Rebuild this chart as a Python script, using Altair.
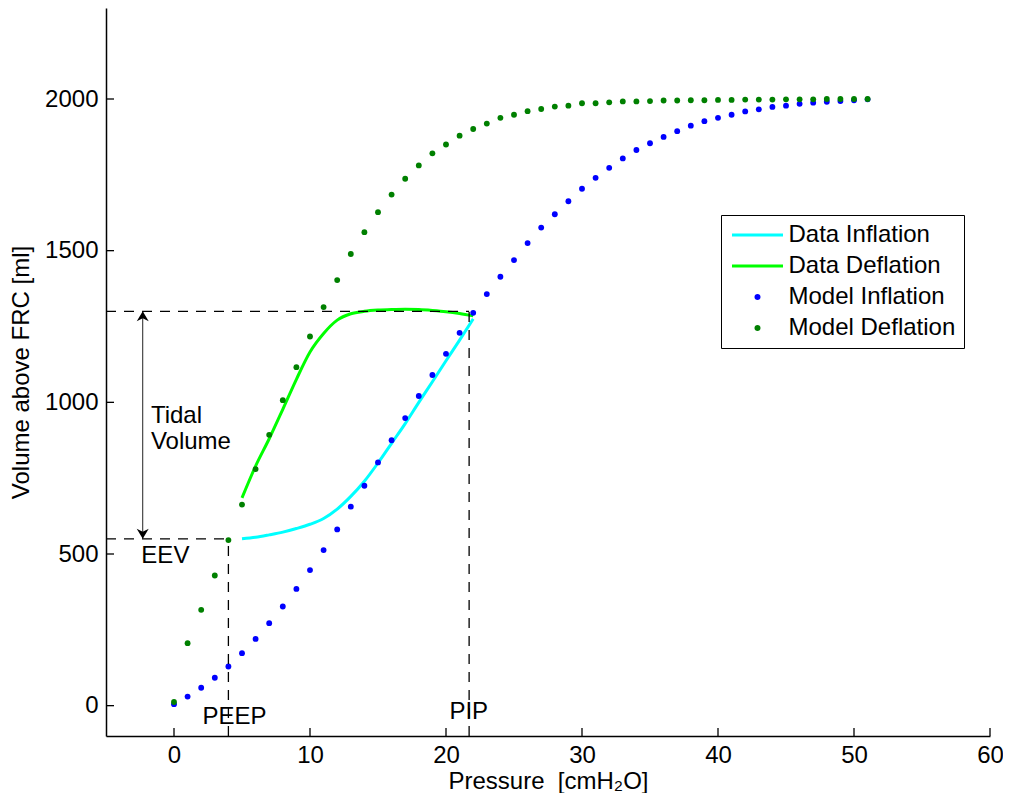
import math
import altair as alt
import pandas as pd

FONT = "Liberation Sans"

# ---------------- data ----------------
model_pressure = list(range(0, 52))
model_inflation = [5, 30, 59, 92, 129, 173, 220, 272, 327, 385, 447, 513, 581, 656, 725,
                   802, 875, 948, 1021, 1090, 1160, 1229, 1295, 1357, 1414, 1469, 1525,
                   1576, 1620, 1663, 1704, 1740, 1773, 1804, 1832, 1854, 1875, 1894, 1912,
                   1927, 1938, 1948, 1959, 1966, 1974, 1978, 1984, 1988, 1991, 1993, 1996, 1999]
model_deflation = [12, 206, 316, 429, 546, 663, 780, 893, 1007, 1116, 1217, 1314, 1403,
                   1489, 1561, 1627, 1685, 1737, 1781, 1821, 1850, 1879, 1901, 1919, 1938,
                   1948, 1960, 1967, 1975, 1978, 1986, 1986, 1989, 1992, 1992, 1993, 1995,
                   1995, 1996, 1996, 1997, 1997, 1998, 1998, 1998, 1999, 1999, 1999, 2000,
                   2000, 2000, 2000]

data_pressure = list(range(5, 23))
data_inflation = [550, 555, 563, 572, 584, 598, 617, 648, 690, 740, 800, 865, 930, 1000,
                  1068, 1137, 1205, 1275]
data_deflation = [685, 790, 880, 977, 1076, 1166, 1227, 1271, 1292, 1300, 1304, 1306,
                  1307, 1306, 1303, 1299, 1293, 1285]

series_names = ["Data Inflation", "Data Deflation", "Model Inflation", "Model Deflation"]
series_colors = ["#00ffff", "#00ff00", "#0000ff", "#008000"]

PEEP = 4
PIP = 21.7
EEV = 550
END_INSP = 1300
ARROW_X = -2.3

x_domain = [-5, 60]
y_domain = [-100, 2300]
x_ticks = [0, 10, 20, 30, 40, 50, 60]
y_ticks = [0, 500, 1000, 1500, 2000]

label_text = ["Tidal", "Volume", "EEV", "PEEP", "PIP"]
label_x = [-1.7, -1.7, -2.4, 2.1, 20.25]
label_y = [932, 845, 470, -59, -44]

# ---------------- tables ----------------
lines_df = pd.concat([
    pd.DataFrame({"p": data_pressure, "v": data_inflation, "series": series_names[0]}),
    pd.DataFrame({"p": data_pressure, "v": data_deflation, "series": series_names[1]}),
])
points_df = pd.concat([
    pd.DataFrame({"p": model_pressure, "v": model_inflation, "series": series_names[2]}),
    pd.DataFrame({"p": model_pressure, "v": model_deflation, "series": series_names[3]}),
])
seg_df = pd.DataFrame({
    "x1": [x_domain[0], PIP, x_domain[0], PEEP],
    "x2": [PIP, PIP, PEEP, PEEP],
    "y1": [END_INSP, y_domain[0], EEV, y_domain[0]],
    "y2": [END_INSP, END_INSP, EEV, EEV],
})
arrow_df = pd.DataFrame({"x": [ARROW_X], "y1": [EEV], "y2": [END_INSP]})
head_up_df = pd.DataFrame({"x": [ARROW_X], "y": [END_INSP]})
head_down_df = pd.DataFrame({"x": [ARROW_X], "y": [EEV]})
text_df = pd.DataFrame({"x": label_x, "y": label_y, "label": label_text})
xt_df = pd.DataFrame({"t": x_ticks})
yt_df = pd.DataFrame({"t": y_ticks})

W, H = 884, 728

# ---------------- scales / axes ----------------
xscale = alt.Scale(domain=x_domain, nice=False, zero=False)
yscale = alt.Scale(domain=y_domain, nice=False, zero=False)
common_axis = dict(grid=False, ticks=False, tickSize=0, domainColor="black", domainWidth=1.5,
                   labelFont=FONT, labelFontSize=24, labelColor="black", labelFlush=False,
                   labelOverlap=False, titleFont=FONT, titleFontSize=24, format="d",
                   titleFontWeight="normal", titleColor="black")
xaxis = alt.Axis(values=x_ticks, title="Pressure\u00a0 [cmH\u2082O]", labelPadding=7,
                 titlePadding=2, **common_axis)
yaxis = alt.Axis(values=y_ticks, title="Volume above FRC [ml]", labelPadding=8,
                 titlePadding=11, **common_axis)


def X(f):
    return alt.X(f, type="quantitative", scale=xscale, axis=xaxis)


def Y(f):
    return alt.Y(f, type="quantitative", scale=yscale, axis=yaxis)


# legend symbols: a line for the data series, a dot for the model series
is_line = "(datum.value == 'Data Inflation' || datum.value == 'Data Deflation')"
line_path = "M-5.1,0L5.1,0"
dot_pts = []
for k in range(16):
    a = 2 * math.pi * k / 16
    dot_pts.append(f"{0.3 * math.cos(a):.3f},{0.3 * math.sin(a):.3f}")
dot_path = "M" + "L".join(dot_pts) + "Z"

legend = alt.Legend(
    title=None, orient="none", legendX=615, legendY=207, padding=8,
    strokeColor="black", fillColor="white", cornerRadius=0,
    labelFont=FONT, labelFontSize=24, labelColor="black", labelLimit=400,
    rowPadding=7, symbolSize=100, symbolStrokeWidth=3, symbolOffset=16.5,
    labelOffset=19, symbolOpacity=1,
    symbolType=alt.ExprRef(expr=f"{is_line} ? '{line_path}' : '{dot_path}'"),
    symbolFillColor=alt.ExprRef(expr="scale('color', datum.value)"),
    symbolStrokeColor=alt.ExprRef(expr="scale('color', datum.value)"),
)
color = alt.Color("series:N", scale=alt.Scale(domain=series_names, range=series_colors),
                  legend=legend)

lines = alt.Chart(lines_df).mark_line(strokeWidth=3, interpolate="monotone").encode(
    x=X("p"), y=Y("v"), color=color)
points = alt.Chart(points_df).mark_circle(size=34, opacity=1).encode(
    x=X("p"), y=Y("v"), color=color)
dashes = alt.Chart(seg_df).mark_rule(color="black", strokeWidth=1.3, strokeDash=[10, 8]).encode(
    x=X("x1"), x2="x2", y=Y("y1"), y2="y2")
arrow_line = alt.Chart(arrow_df).mark_rule(color="#222222", strokeWidth=1).encode(
    x=X("x"), y=Y("y1"), y2="y2")
head_up = alt.Chart(head_up_df).mark_point(
    shape="M0,0L-0.6,1L0,0.7L0.6,1Z", filled=True, color="black", size=400, opacity=1
).encode(x=X("x"), y=Y("y"))
head_down = alt.Chart(head_down_df).mark_point(
    shape="M0,0L-0.6,-1L0,-0.7L0.6,-1Z", filled=True, color="black", size=400, opacity=1
).encode(x=X("x"), y=Y("y"))
texts = alt.Chart(text_df).mark_text(align="left", baseline="alphabetic", font=FONT,
                                     fontSize=24, color="black").encode(
    x=X("x"), y=Y("y"), text="label:N")
xt = alt.Chart(xt_df).mark_rule(color="black", strokeWidth=1.3).encode(
    x=X("t"), y=alt.value(H), y2=alt.value(H - 8))
yt = alt.Chart(yt_df).mark_rule(color="black", strokeWidth=1.3).encode(
    y=Y("t"), x=alt.value(0), x2=alt.value(8))

chart = alt.layer(lines, points, dashes, arrow_line, head_up, head_down, texts, xt, yt).properties(
    width=W, height=H,
    autosize=alt.AutoSizeParams(type="none"),
    padding={"left": 98, "top": 0, "right": 13, "bottom": 57},
    background="white",
).configure_view(stroke=None)

chart.save("out.html", embed_options={"renderer": "svg", "actions": False})
